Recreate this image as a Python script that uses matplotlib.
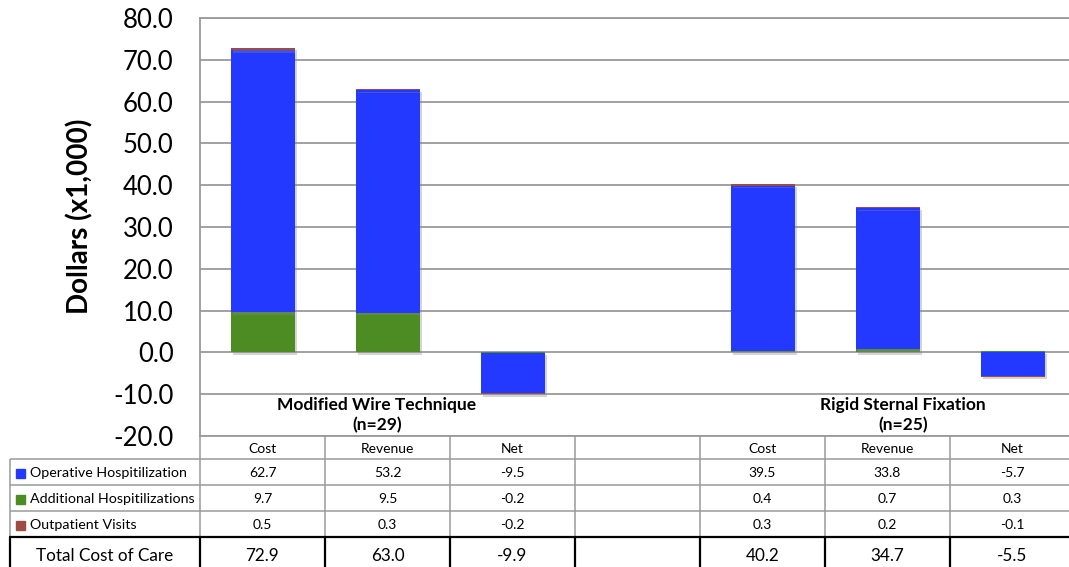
import numpy as np
import matplotlib
matplotlib.use("Agg")
import matplotlib.pyplot as plt
from matplotlib.lines import Line2D
from matplotlib.patches import Rectangle
import matplotlib.patheffects as pe

plt.rcParams['font.family'] = ['Lato', 'DejaVu Sans']

# ---- data ----
columns = ["Cost", "Revenue", "Net", "", "Cost", "Revenue", "Net"]
groups = ["Modified Wire Technique\n(n=29)", "Rigid Sternal Fixation\n(n=25)"]
series_names = ["Operative Hospitilization", "Additional Hospitilizations", "Outpatient Visits"]
operative = [62.7, 53.2, -9.5, np.nan, 39.5, 33.8, -5.7]
additional = [9.7, 9.5, -0.2, np.nan, 0.4, 0.7, 0.3]
outpatient = [0.5, 0.3, -0.2, np.nan, 0.3, 0.2, -0.1]
total = [72.9, 63.0, -9.9, np.nan, 40.2, 34.7, -5.5]
total_label = "Total Cost of Care"
yticks = [-20, -10, 0, 10, 20, 30, 40, 50, 60, 70, 80]

col_blue = "#2339FF"
col_green = "#4C8C23"
col_brown = "#9E4B45"
series_colors = [col_blue, col_green, col_brown]
grid_col = "#9A9A9A"

W, H = 1069, 567
fig = plt.figure(figsize=(W / 100, H / 100), dpi=100)

def fx(px):
    return px / W

def fy(py):
    return 1 - py / H

# axes: x 200..1069, y 18..436
ax = fig.add_axes([fx(200), fy(436), fx(1069) - fx(200), fy(18) - fy(436)])
slot = 125.0
ax.set_xlim(-0.5, -0.5 + 869 / slot)
ax.set_ylim(-20, 80)

x = np.arange(len(columns))
pos_bottom = np.zeros(len(columns))
neg_bottom = np.zeros(len(columns))
shadow = [pe.SimplePatchShadow(offset=(1.5, -2), shadow_rgbFace="#888888", alpha=0.35), pe.Normal()]
# stacking order as drawn in the reference: additional, operative, outpatient
for vals, col in [(additional, col_green), (operative, col_blue), (outpatient, col_brown)]:
    v = np.array(vals, dtype=float)
    mask = ~np.isnan(v)
    vv = np.where(mask, v, 0.0)
    bottoms = np.where(vv >= 0, pos_bottom, neg_bottom)
    bars = ax.bar(x[mask], vv[mask], bottom=bottoms[mask], width=0.512, color=col,
                  zorder=3, linewidth=0)
    for b in bars:
        b.set_path_effects(shadow)
    pos_bottom += np.where(vv >= 0, vv, 0)
    neg_bottom += np.where(vv < 0, vv, 0)

ax.set_yticks(yticks)
ax.set_yticklabels([f"{t:.1f}" for t in yticks], fontsize=18.5)
ax.tick_params(axis='y', length=0, pad=19, colors="black")
ax.set_xticks([])
ax.yaxis.grid(True, color=grid_col, linewidth=1.3, zorder=0)
ax.set_axisbelow(True)
for s in ["left", "top", "bottom"]:
    ax.spines[s].set_color(grid_col)
    ax.spines[s].set_linewidth(1.3)
ax.spines["right"].set_visible(False)
ax.set_ylabel("Dollars (x1,000)", fontsize=20, fontweight="bold")
ax.yaxis.set_label_coords((93 - 200) / 869, 0.526)

# group labels
ax.text(0.915, -15.0, groups[0], ha="center", va="center", fontsize=12.5,
        fontweight="bold", linespacing=1.3)
ax.text(5.125, -15.0, groups[1], ha="center", va="center", fontsize=12.5,
        fontweight="bold", linespacing=1.3)

# ---- data table below ----
def hline(y, x0, x1, color=grid_col, lw=1.1):
    fig.add_artist(Line2D([fx(x0), fx(x1)], [fy(y), fy(y)], color=color, lw=lw,
                          transform=fig.transFigure, solid_capstyle="butt"))

def vline(xp, y0, y1, color=grid_col, lw=1.1):
    fig.add_artist(Line2D([fx(xp), fx(xp)], [fy(y0), fy(y1)], color=color, lw=lw,
                          transform=fig.transFigure, solid_capstyle="butt"))

col_edges = [200 + slot * i for i in range(7)]
col_centers = [200 + slot * (i + 0.5) for i in range(7)]
row_edges = [436, 459, 485, 511, 537]

hline(459, 10, W)
hline(485, 10, W)
hline(511, 10, W)
vline(10, 459, 537)
for xe in col_edges:
    vline(xe, 436, 537)

# total row (black)
hline(537, 9, W, color="black", lw=1.6)
for xe in [10] + col_edges:
    vline(xe, 537, H + 2, color="black", lw=1.6)

# header
for c, name in zip(col_centers, columns):
    if name:
        fig.text(fx(c), fy(449), name, ha="center", va="center", fontsize=10)

rows = [operative, additional, outpatient]
for r, (vals, nm, colr) in enumerate(zip(rows, series_names, series_colors)):
    yc = (row_edges[r + 1] + row_edges[r + 2]) / 2 + 1
    fig.add_artist(Rectangle((fx(16), fy(yc + 4.5)), fx(9), fy(0) - fy(9), color=colr,
                             transform=fig.transFigure))
    fig.text(fx(30), fy(yc), nm, ha="left", va="center", fontsize=10.3)
    for c, v in zip(col_centers, vals):
        if not np.isnan(v):
            fig.text(fx(c), fy(yc), f"{v:.1f}", ha="center", va="center", fontsize=10)

fig.text(fx(105), fy(556), total_label, ha="center", va="center", fontsize=12.3)
for c, v in zip(col_centers, total):
    if not np.isnan(v):
        fig.text(fx(c), fy(556), f"{v:.1f}", ha="center", va="center", fontsize=12.3)

fig.savefig("out.png", dpi=100)
